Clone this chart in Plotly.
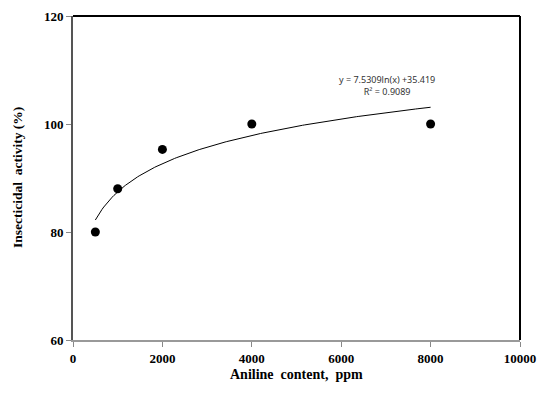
import numpy as np
import plotly.graph_objects as go

# Data
aniline_ppm = [500, 1000, 2000, 4000, 8000]
activity_pct = [80, 88, 95.3, 100, 100]

# Logarithmic trendline shown on the chart: y = a*ln(x) + b
trend_a = 7.5309
trend_b = 35.419
trend_r2 = 0.9089

x_ticks = [0, 2000, 4000, 6000, 8000, 10000]
x_tick_labels = ["0", "2000", "4000", "6000", "8000", "10000"]
y_ticks = [60, 80, 100, 120]

tx = np.linspace(min(aniline_ppm), max(aniline_ppm), 200)
ty = trend_a * np.log(tx) + trend_b

fig = go.Figure()
fig.add_trace(go.Scatter(x=tx, y=ty, mode="lines",
                         line=dict(color="black", width=1), hoverinfo="skip"))
fig.add_trace(go.Scatter(x=aniline_ppm, y=activity_pct, mode="markers",
                         marker=dict(color="black", size=9)))

tickfont = dict(family="Liberation Serif", size=13, color="black", weight="bold")
fig.update_xaxes(range=[0, 10000], tickvals=x_ticks, ticktext=x_tick_labels,
                 ticks="outside", ticklen=5, automargin=False,
                 tickcolor="#888", showline=True, linecolor="#999", linewidth=2,
                 showgrid=False, zeroline=False, tickfont=tickfont)
fig.update_yaxes(range=[60, 120], tickvals=y_ticks, ticks="outside", ticklen=5,
                 automargin=False,
                 tickcolor="#888", showline=True, linecolor="#555", linewidth=2,
                 showgrid=False, zeroline=False, tickfont=tickfont)

fig.update_layout(
    width=538, height=401,
    margin=dict(l=73, r=18, t=16, b=61),
    paper_bgcolor="white", plot_bgcolor="white",
    showlegend=False,
    shapes=[
        dict(type="line", xref="paper", yref="paper", x0=0, x1=1, y0=1, y1=1,
             line=dict(color="black", width=2)),
        dict(type="line", xref="paper", yref="paper", x0=1, x1=1, y0=0, y1=1,
             line=dict(color="black", width=2)),
    ],
    annotations=[
        dict(text="Aniline  content,  ppm", xref="paper", yref="paper",
             x=0.5, y=-34 / 324, yanchor="middle", xanchor="center",
             showarrow=False,
             font=dict(family="Liberation Serif", size=14, color="black", weight="bold")),
        dict(text="Insecticidal  activity (%)", xref="paper", yref="paper",
             x=-56 / 447, y=0.5, xanchor="center", yanchor="middle",
             textangle=-90, showarrow=False,
             font=dict(family="Liberation Serif", size=13.5, color="black", weight="bold")),
        dict(text=f"y = {trend_a}ln(x) +{trend_b}<br>R² = {trend_r2}",
             xref="paper", yref="paper", x=(387 - 73) / 447, y=(340 - 86) / 324,
             xanchor="center", yanchor="middle", showarrow=False, align="center",
             font=dict(family="Noto Sans", size=9, color="#333")),
    ],
)

fig.write_html("out.html", config={"displayModeBar": False},
               post_script="document.body.style.margin='0';")
